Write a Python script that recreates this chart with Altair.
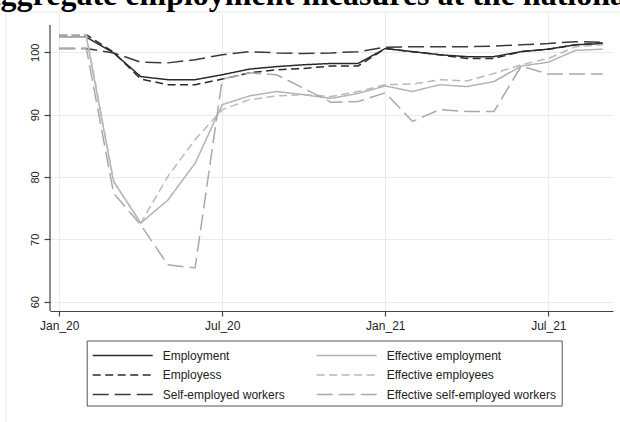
import altair as alt
import pandas as pd

# ---- data ----
months = ["2020-01", "2020-02", "2020-03", "2020-04", "2020-05", "2020-06", "2020-07",
          "2020-08", "2020-09", "2020-10", "2020-11", "2020-12", "2021-01", "2021-02",
          "2021-03", "2021-04", "2021-05", "2021-06", "2021-07", "2021-08", "2021-09"]

employment = [102.4, 102.4, 99.9, 96.1, 95.6, 95.6, 96.4, 97.3, 97.7, 98.0, 98.2,
              98.2, 100.6, 100.1, 99.6, 99.3, 99.3, 100.1, 100.5, 101.2, 101.4]
employees = [102.8, 102.8, 100.0, 95.7, 94.8, 94.8, 95.7, 96.7, 97.2, 97.4, 97.8,
             97.8, 100.6, 100.1, 99.6, 99.0, 99.0, 100.1, 100.5, 101.2, 101.5]
self_employed = [100.6, 100.6, 99.9, 98.4, 98.3, 98.8, 99.6, 100.1, 99.9, 99.8, 99.9,
                 100.1, 100.8, 100.9, 100.9, 100.9, 101.0, 101.2, 101.4, 101.7, 101.6]
eff_employment = [102.4, 102.4, 79.3, 72.6, 76.3, 82.2, 91.6, 93.0, 93.7, 93.2, 92.6,
                  93.4, 94.6, 93.7, 94.8, 94.5, 95.3, 97.8, 98.4, 100.3, 100.5]
eff_employees = [102.8, 102.8, 79.3, 72.6, 80.1, 86.0, 90.8, 92.4, 93.0, 93.2, 92.9,
                 93.7, 94.8, 94.9, 95.6, 95.4, 96.6, 98.0, 99.0, 100.9, 101.2]
eff_self_employed = [100.6, 100.6, 77.4, 72.3, 65.9, 65.4, 95.7, 96.7, 96.4, 94.2, 92.0,
                     92.1, 93.5, 88.9, 90.8, 90.5, 90.5, 97.8, 96.5, 96.5, 96.5]

series_names = ["Employment", "Employess", "Self-employed workers",
                "Effective employment", "Effective employees",
                "Effective self-employed workers"]
series_values = [employment, employees, self_employed,
                 eff_employment, eff_employees, eff_self_employed]

tick_pos = [0, 6, 12, 18]
tick_labels = ["Jan_20", "Jul_20", "Jan_21", "Jul_21"]
y_ticks = [60, 70, 80, 90, 100]

title_text = "Aggregate employment measures at the national level"

# ---- styling ----
colors = ["#2b2b2b", "#2b2b2b", "#3a3a3a", "#b3b3b3", "#b9b9b9", "#a9a9a9"]
dashes = [[1, 0], [8, 4.5], [16, 6], [1, 0], [8, 4.5], [16, 6]]

rows = []
for name, vals in zip(series_names, series_values):
    for i, (m, v) in enumerate(zip(months, vals)):
        rows.append({"t": i, "month": m, "series": name, "value": v})
df = pd.DataFrame(rows)

label_expr = " : ".join(
    f"datum.value == {p} ? '{l}'" for p, l in zip(tick_pos, tick_labels)
) + " : ''"

legend = alt.Legend(
    title=None, orient="none", legendX=36.7, legendY=327.5, columns=2,
    direction="vertical",
    symbolType="M-1,0H5.667", symbolSize=324, symbolStrokeWidth=1.5,
    labelFont="Liberation Sans", labelFontSize=12, labelColor="#222222",
    labelOffset=51, strokeColor="#555555", padding=5, rowPadding=3.5,
    columnPadding=28, labelLimit=400,
)

lines = alt.Chart(df).mark_line(strokeWidth=1.5).encode(
    x=alt.X("t:Q", scale=alt.Scale(domain=[-0.34, 20.38], nice=False, zero=False),
            axis=alt.Axis(values=tick_pos, labelExpr=label_expr, title=None,
                          tickSize=5, labelPadding=4, labelFontSize=12)),
    y=alt.Y("value:Q", scale=alt.Scale(domain=[58.5, 106.3], nice=False, zero=False),
            axis=alt.Axis(values=y_ticks, title=None, domain=False, tickSize=6,
                          labelAngle=270, labelAlign="center", labelBaseline="bottom",
                          labelPadding=4, labelFontSize=11)),
    color=alt.Color("series:N", scale=alt.Scale(domain=series_names, range=colors),
                    legend=legend),
    strokeDash=alt.StrokeDash("series:N", scale=alt.Scale(domain=series_names, range=dashes),
                              legend=legend),
    order=alt.Order("t:Q"),
)

one = pd.DataFrame({"a": [0]})
y_axis_line = alt.Chart(one).mark_rule(color="#444444", strokeWidth=1.2).encode(
    x=alt.value(0), y=alt.value(12), y2=alt.value(298))
frame_top = alt.Chart(one).mark_rule(color="#e1eaee", strokeWidth=1).encode(
    x=alt.value(-44), x2=alt.value(580), y=alt.value(-1))
frame_left = alt.Chart(one).mark_rule(color="#e1eaee", strokeWidth=1).encode(
    x=alt.value(-44), y=alt.value(-1), y2=alt.value(420))

chart = alt.layer(frame_top, frame_left, lines, y_axis_line).properties(
    width=563, height=298,
    autosize=alt.AutoSizeParams(type="none"),
    padding={"left": 50, "top": 13, "right": 7, "bottom": 111},
    title=alt.TitleParams(title_text, font="Liberation Serif", fontSize=32,
                          fontWeight="bold", anchor="start", dx=-28, dy=31,
                          color="#000000", baseline="alphabetic", offset=6),
).configure_view(stroke=None).configure_axis(
    domainColor="#444444", domainWidth=1.2, tickColor="#444444", tickWidth=1.2,
    labelFont="Liberation Sans", labelColor="#222222",
    gridColor="#e4edf0", gridWidth=1,
)

chart.save("out.html", embed_options={"renderer": "svg", "actions": False})
